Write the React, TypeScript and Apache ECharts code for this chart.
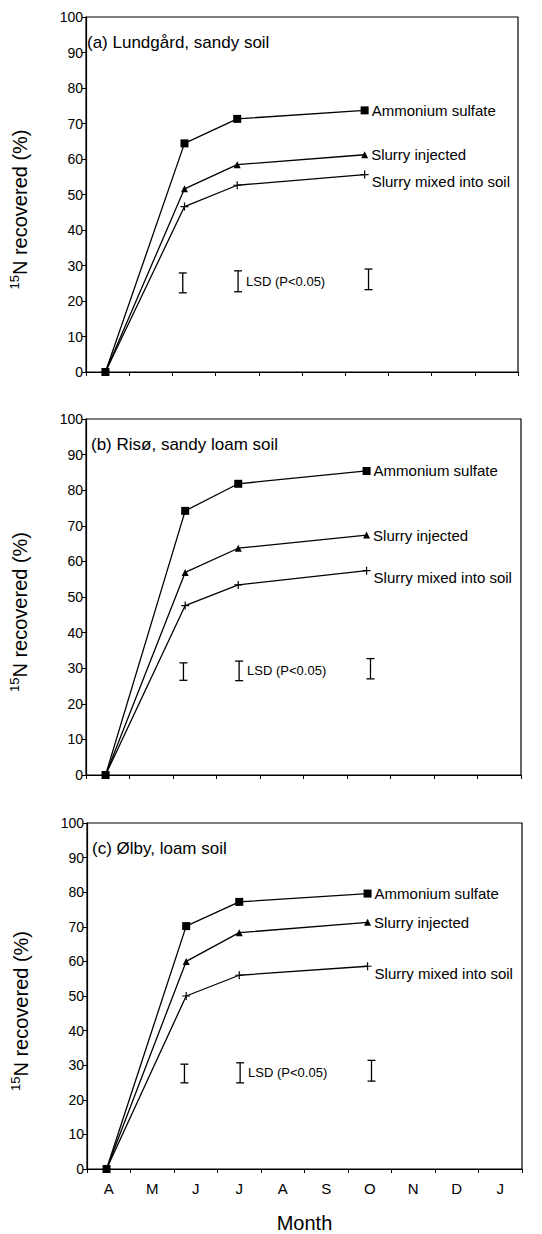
import React, { useEffect, useRef } from "react";
import * as echarts from "echarts";

// ---- data ----
const months = ["A", "M", "J", "J", "A", "S", "O", "N", "D", "J"];
const sampleX = [0.45, 2.28, 3.5, 6.45];
const lsdX = [2.24, 3.52, 6.54];
const panelTitles = ["(a) Lundgård, sandy soil", "(b) Risø, sandy loam soil", "(c) Ølby, loam soil"];
const seriesNames = ["Ammonium sulfate", "Slurry injected", "Slurry mixed into soil"];

const ammoniumA = [0, 64.4, 71.3, 73.7];
const injectedA = [0, 51.6, 58.4, 61.2];
const mixedA = [0, 46.6, 52.6, 55.6];
const lsdA = [[22.3, 27.9], [22.6, 28.5], [23.2, 29.0]];

const ammoniumB = [0, 74.2, 81.8, 85.4];
const injectedB = [0, 56.9, 63.7, 67.4];
const mixedB = [0, 47.6, 53.4, 57.4];
const lsdB = [[26.6, 31.5], [26.5, 32.0], [27.0, 32.7]];

const ammoniumC = [0, 70.2, 77.2, 79.6];
const injectedC = [0, 60.0, 68.3, 71.3];
const mixedC = [0, 50.0, 56.0, 58.6];
const lsdC = [[24.9, 30.3], [24.9, 30.7], [25.4, 31.4]];

const panels = [
  { ams: ammoniumA, inj: injectedA, mix: mixedA, lsd: lsdA },
  { ams: ammoniumB, inj: injectedB, mix: mixedB, lsd: lsdB },
  { ams: ammoniumC, inj: injectedC, mix: mixedC, lsd: lsdC },
];

const FONT = "'Liberation Sans', Arial, Helvetica, sans-serif";
const grids = [
  { left: 82, top: 17, width: 436, height: 355 },
  { left: 86, top: 419, width: 435, height: 356 },
  { left: 87, top: 823, width: 435, height: 348 },
];
const PLUS = "path://M3.4,0H4.6V3.4H8V4.6H4.6V8H3.4V4.6H0V3.4H3.4Z";

export default function App() {
  const ref = useRef<HTMLDivElement>(null);
  useEffect(() => {
    if (!ref.current) return;
    const chart = echarts.init(ref.current, null, { renderer: "svg" });

    const xAxis: any[] = [];
    const yAxis: any[] = [];
    const series: any[] = [];
    const title: any[] = [];

    grids.forEach((g, i) => {
      const isLast = i === grids.length - 1;
      xAxis.push({
        type: "value",
        gridIndex: i,
        min: 0,
        max: 10,
        interval: 1,
        axisLine: { show: true, lineStyle: { color: "#000", width: 1.2 } },
        axisTick: { show: true, length: 4, lineStyle: { color: "#000" }, customValues: [0, 1, 2, 3, 4, 5, 6, 7, 8, 9, 10] },
        axisLabel: isLast
          ? {
              show: true,
              customValues: months.map((_, k) => k + 0.5),
              formatter: (v: number) => months[Math.floor(v)],
              color: "#000",
              fontSize: 15,
              fontFamily: FONT,
              margin: 12,
            }
          : { show: false },
        splitLine: { show: false },
        name: isLast ? "Month" : "",
        nameLocation: "middle",
        nameGap: 44,
        nameTextStyle: { color: "#000", fontSize: 20, fontFamily: FONT },
      });
      yAxis.push({
        type: "value",
        gridIndex: i,
        min: 0,
        max: 100,
        interval: 10,
        axisLine: { show: true, lineStyle: { color: "#000", width: 1.2 } },
        axisTick: { show: true, length: 4, lineStyle: { color: "#000" } },
        axisLabel: { color: "#000", fontSize: 14, fontFamily: FONT, margin: 3 },
        splitLine: { show: false },
        name: "{s|15}{n|N recovered (%)}",
        nameLocation: "middle",
        nameGap: 56,
        nameTextStyle: {
          color: "#000",
          fontFamily: FONT,
          padding: [0, 30, 0, 0],
          rich: {
            s: { fontSize: 13, fontFamily: FONT, color: "#000", verticalAlign: "top", lineHeight: 22 },
            n: { fontSize: 20, fontFamily: FONT, color: "#000", verticalAlign: "bottom", lineHeight: 22 },
          },
        },
      });
      title.push({
        text: panelTitles[i],
        left: g.left + 5,
        top: g.top + 17,
        textStyle: { fontSize: 17, fontWeight: "normal", color: "#000", fontFamily: FONT },
        padding: 0,
      });

      const p = panels[i];
      const mk = (vals: number[], name: string, symbol: string, size: number, labelOffset: number[]) => ({
        type: "line",
        name,
        xAxisIndex: i,
        yAxisIndex: i,
        symbol,
        symbolSize: size,
        showAllSymbol: true,
        lineStyle: { color: "#000", width: 1.3 },
        itemStyle: { color: "#000" },
        data: vals.map((v, k) =>
          k === vals.length - 1
            ? {
                value: [sampleX[k], v],
                label: {
                  show: true,
                  position: "right",
                  distance: 3,
                  offset: labelOffset,
                  formatter: name,
                  color: "#000",
                  fontSize: 15,
                  fontFamily: FONT,
                },
              }
            : { value: [sampleX[k], v] }
        ),
        z: symbol === "rect" ? 4 : 3,
      });
      series.push(mk(p.mix, seriesNames[2], PLUS, 8, [0, 7]));
      series.push(mk(p.inj, seriesNames[1], "triangle", 7, [0, 0]));
      series.push(mk(p.ams, seriesNames[0], "rect", 8, [0, 0]));

      series.push({
        type: "custom",
        name: "LSD (P<0.05)",
        xAxisIndex: i,
        yAxisIndex: i,
        data: p.lsd.map((r, k) => [lsdX[k], r[0], r[1]]),
        renderItem: (params: any, api: any) => {
          const x = api.value(0);
          const lo = api.coord([x, api.value(1)]);
          const hi = api.coord([x, api.value(2)]);
          const w = 4;
          const st = { stroke: "#000", lineWidth: 1.3 };
          const children: any[] = [
            { type: "line", shape: { x1: lo[0], y1: lo[1], x2: hi[0], y2: hi[1] }, style: st },
            { type: "line", shape: { x1: lo[0] - w, y1: lo[1], x2: lo[0] + w, y2: lo[1] }, style: st },
            { type: "line", shape: { x1: hi[0] - w, y1: hi[1], x2: hi[0] + w, y2: hi[1] }, style: st },
          ];
          if (params.dataIndex === 1) {
            children.push({
              type: "text",
              x: lo[0] + 8,
              y: (lo[1] + hi[1]) / 2,
              style: {
                text: "LSD (P<0.05)",
                fill: "#000",
                fontSize: 13,
                fontFamily: FONT,
                verticalAlign: "middle",
                align: "left",
              },
            });
          }
          return { type: "group", children };
        },
      });
    });

    chart.setOption({
      animation: false,
      backgroundColor: "#fff",
      title,
      grid: grids.map((g) => ({ ...g, show: true, borderColor: "#000", borderWidth: 1.2, backgroundColor: "transparent" })),
      xAxis,
      yAxis,
      series,
    });
    return () => chart.dispose();
  }, []);
  return (
    <div
      ref={ref}
      style={{ position: "absolute", left: 0, top: 0, width: 542, height: 1234, background: "#fff" }}
    />
  );
}
